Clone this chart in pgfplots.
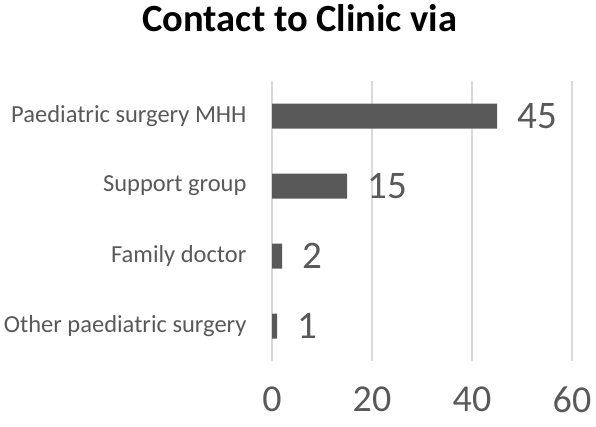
\documentclass[border=0pt]{standalone}
\usepackage{pgfplots}
\pgfplotsset{compat=1.18}
\usepackage{fontspec}
\setmainfont{Carlito}
\definecolor{barc}{RGB}{89,89,89}
\definecolor{gridc}{RGB}{217,217,217}
\definecolor{txtc}{RGB}{89,89,89}

\begin{document}
\begin{tikzpicture}[x=1pt,y=1pt]
\path[use as bounding box] (0,0) rectangle (596,426);
\begin{axis}[
    at={(272pt,65pt)}, anchor=south west,
    scale only axis,
    width=300pt, height=280pt,
    xbar, bar width=25pt,
    xmin=0, xmax=60,
    ymin=-0.5, ymax=3.5,
    xtick={0,20,40,60},
    ytick={0,1,2,3},
    yticklabels={Other paediatric surgery, Family doctor, Support group, Paediatric surgery MHH},
    xmajorgrids, major grid style={gridc, line width=1.2pt},
    axis line style={draw=none},
    axis x line*=bottom, axis y line*=left,
    major tick length=0pt,
    /pgf/number format/assume math mode=true,
    xticklabel style={font=\fontsize{38}{38}\selectfont, text=txtc, yshift=-22pt},
    yticklabel style={font=\fontsize{24.5}{24.5}\selectfont, text=txtc, xshift=-22pt},
    title={\textbf{Contact to Clinic via}},
    title style={at={(axis description cs:0.093,1.204)}, anchor=center, font=\fontsize{38.5}{38.5}\selectfont},
    nodes near coords,
    nodes near coords style={font=\fontsize{39}{39}\selectfont, text=txtc, anchor=west, xshift=17pt},
    clip=false,
]
\draw[gridc, line width=1.2pt] (axis cs:0,-0.5) -- (axis cs:0,3.5);
\addplot[fill=barc, draw=none] coordinates {(1,0) (2,1) (15,2) (45,3)};
\end{axis}
\end{tikzpicture}
\end{document}
